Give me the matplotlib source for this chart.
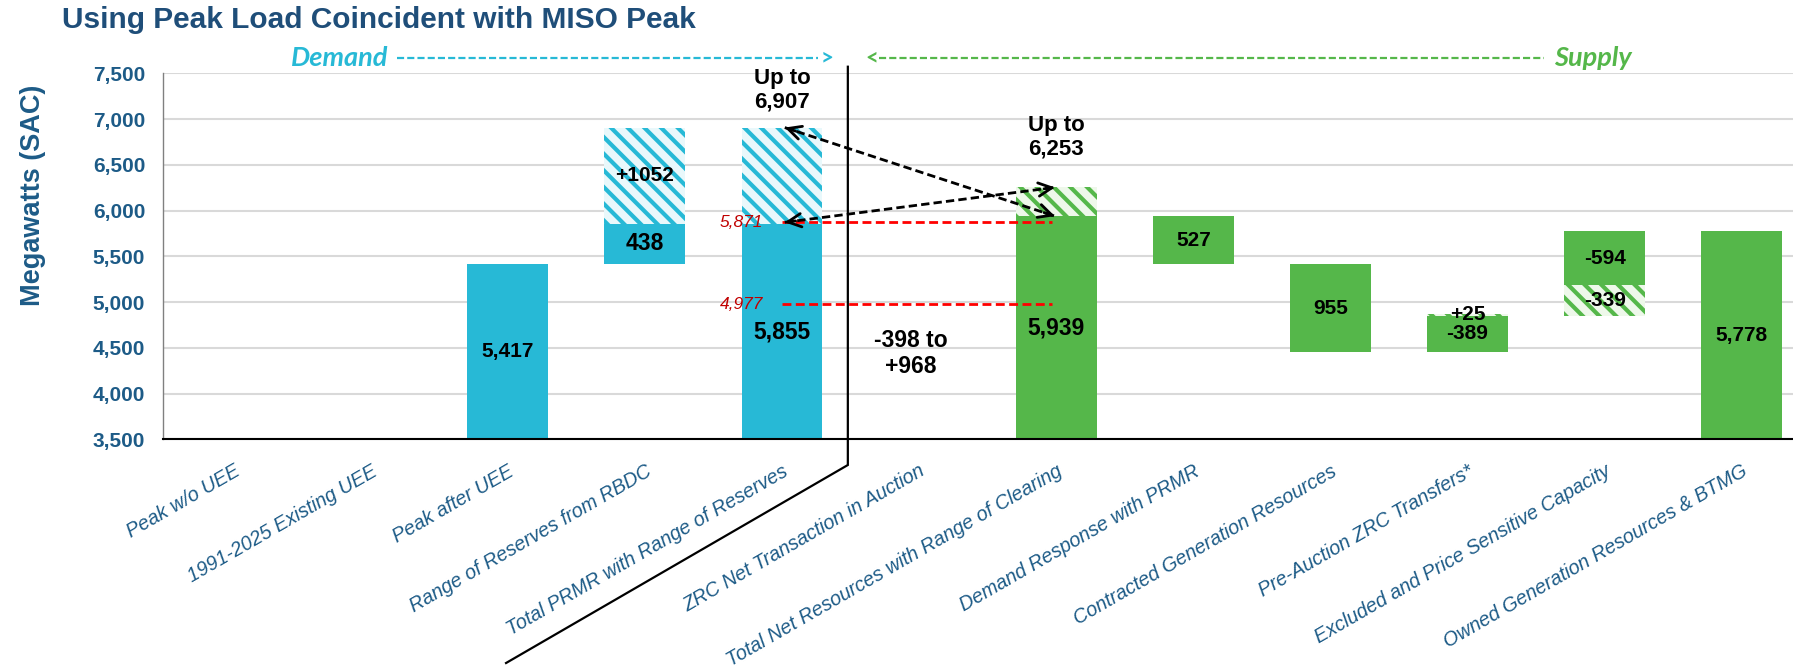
import matplotlib
matplotlib.use("Agg")
import matplotlib.pyplot as plt
import numpy as np

# ---------------- data ----------------
categories = ["Peak w/o UEE", "1991-2025 Existing UEE", "Peak after UEE",
              "Range of Reserves from RBDC", "Total PRMR with Range of Reserves",
              "ZRC Net Transaction in Auction", "Total Net Resources with Range of Clearing",
              "Demand Response with PRMR", "Contracted Generation Resources",
              "Pre-Auction ZRC Transfers*", "Excluded and Price Sensitive Capacity",
              "Owned Generation Resources & BTMG"]
nan = np.nan
solid_bottom = [nan, nan, 3500, 5417, 3500, nan, 3500, 5412, 4457, 4457, 5184, 3500]
solid_top = [nan, nan, 5417, 5855, 5855, nan, 5939, 5939, 5412, 4846, 5778, 5778]
hatch_bottom = [nan, nan, nan, 5855, 5855, nan, 5939, nan, nan, 4846, 4845, nan]
hatch_top = [nan, nan, nan, 6907, 6907, nan, 6253, nan, nan, 4871, 5184, nan]
solid_labels = ["", "", "5,417", "438", "5,855", "", "5,939", "527", "955", "-389", "-594", "5,778"]
hatch_labels = ["", "", "", "+1052", "", "", "", "", "", "+25", "-339", ""]
ref_levels = [5871, 4977]
ref_level_labels = ["5,871", "4,977"]
range_top_demand = 6907
range_top_supply = 6253
prmr_value = 5871
supply_value = 5939
yticks = [3500, 4000, 4500, 5000, 5500, 6000, 6500, 7000, 7500]

# ---------------- style ----------------
CYAN = "#27b9d6"
GREEN = "#55b74a"
CYAN_BG = "#e9f8fb"
GREEN_BG = "#eef8ea"
NAVY = "#1d5b87"
TITLE = "#1f4e79"
NARROW = ["Liberation Sans Narrow", "Liberation Sans", "DejaVu Sans"]
ARIAL = ["Liberation Sans", "DejaVu Sans"]
HEAD = ["Lato", "DejaVu Sans"]
plt.rcParams["hatch.linewidth"] = 3.0

W, H = 1793, 671
fig = plt.figure(figsize=(W / 100, H / 100), dpi=100)
ax = fig.add_axes([163.3 / W, 1 - 439.3 / H, 1 - 163.3 / W, (439.3 - 73.3) / H])

x = np.arange(len(categories))
colors = [CYAN if i <= 4 else GREEN for i in x]
bgs = [CYAN_BG if i <= 4 else GREEN_BG for i in x]
width = 0.59

sb = np.array(solid_bottom, float); st = np.array(solid_top, float)
hb = np.array(hatch_bottom, float); ht = np.array(hatch_top, float)

ax.bar(x, st - sb, bottom=sb, width=width, color=colors, linewidth=0, zorder=2)
ax.bar(x, ht - hb, bottom=hb, width=width, color=bgs, edgecolor=colors,
       hatch="\\\\", linewidth=0, zorder=2)

narrow_set = {"5,417", "+1052", "527", "955", "-389", "+25", "-594", "-339", "5,778"}
for i in x:
    if solid_labels[i]:
        is_narrow = solid_labels[i] in narrow_set
        ax.text(i, (sb[i] + st[i]) / 2, solid_labels[i], ha="center", va="center",
                family=NARROW if is_narrow else ARIAL, fontweight="bold",
                fontsize=15 if is_narrow else 16.5, color="black", zorder=5)
    if hatch_labels[i]:
        ax.text(i, (hb[i] + ht[i]) / 2, hatch_labels[i], ha="center", va="center",
                family=NARROW, fontweight="bold", fontsize=15, color="black", zorder=5)

# range annotations
ax.text(4, 7317, "Up to\n6,907", ha="center", va="center", family=ARIAL,
        fontweight="bold", fontsize=16, linespacing=1.15, clip_on=False)
ax.text(6, 6804, "Up to\n6,253", ha="center", va="center", family=ARIAL,
        fontweight="bold", fontsize=16, linespacing=1.15)
ax.text(4.94, 4440, "-398 to\n+968", ha="center", va="center", family=ARIAL,
        fontweight="bold", fontsize=16.5, linespacing=1.15)

# red dashed reference lines
for lv, lab in zip(ref_levels, ref_level_labels):
    ax.plot([4.0, 5.97], [lv, lv], color="#ff0000", lw=2.0, dashes=(3.2, 1.6),
            zorder=4, dash_capstyle="butt")
    ax.text(3.86, lv, lab, ha="right", va="center", color="#c00000",
            family=ARIAL, fontstyle="italic", fontsize=12.5, zorder=5)

# dashed double arrows
pairs = [((4.02, range_top_demand), (5.99, supply_value)),
         ((4.02, prmr_value), (5.99, range_top_supply))]
for (x0, y0), (x1, y1) in pairs:
    ax.plot([x0, x1], [y0, y1], color="black", lw=2.0, dashes=(3.0, 1.5), zorder=6)
    for (xa, ya), (xb, yb) in [((x0, y0), (x1, y1)), ((x1, y1), (x0, y0))]:
        xs = xb + (xa - xb) * 0.04
        ys = yb + (ya - yb) * 0.04
        ax.annotate("", xy=(xb, yb), xytext=(xs, ys),
                    arrowprops=dict(arrowstyle="->", lw=2.0, color="black",
                                    mutation_scale=24, shrinkA=0, shrinkB=0),
                    zorder=6)

# axes styling
ax.set_xlim(-0.513, 11.374)
ax.set_ylim(3500, 7500)
ax.set_yticks(yticks)
ax.set_yticklabels([f"{v:,}" for v in yticks], family=NARROW, fontweight="bold",
                   fontsize=15, color=NAVY)
ax.tick_params(axis="y", length=0, pad=13)
ax.set_xticks(x)
ax.set_xticklabels(categories, rotation=30, ha="right", va="top",
                   rotation_mode="anchor", family=ARIAL, fontstyle="italic",
                   fontsize=14.2, color=NAVY)
ax.tick_params(axis="x", length=0, pad=16)
ax.grid(axis="y", color="#d9d9d9", lw=1.5, zorder=0)
ax.set_axisbelow(True)
for s in ["top", "right"]:
    ax.spines[s].set_visible(False)
ax.spines["left"].set_color("#808080")
ax.spines["left"].set_linewidth(1.0)
ax.spines["bottom"].set_color("black")
ax.spines["bottom"].set_linewidth(1.5)

# divider line
ax.plot([4.48, 4.48, 1.987], [7572, 3219, 1055], color="black", lw=1.6,
        clip_on=False, zorder=6, solid_joinstyle="miter")

# Demand / Supply headers
yh = 7667
ax.text(0.42, yh, "Demand", color=CYAN, family=HEAD,
        fontstyle="italic", fontweight="bold", fontsize=19.5, ha="left", va="center",
        clip_on=False)
ax.plot([1.19, 4.26], [yh, yh], color=CYAN, lw=1.6, dashes=(3.2, 1.4), clip_on=False)
ax.text(4.28, yh, ">", color=CYAN, family=HEAD,
        fontweight="bold", fontsize=16, ha="left", va="center", clip_on=False)
ax.text(4.70, yh, "<", color=GREEN, family=HEAD,
        fontweight="bold", fontsize=16, ha="right", va="center", clip_on=False)
ax.plot([4.71, 9.56], [yh, yh], color=GREEN, lw=1.6, dashes=(3.2, 1.4), clip_on=False)
ax.text(9.63, yh, "Supply", color=GREEN, family=HEAD,
        fontstyle="italic", fontweight="bold", fontsize=19.5, ha="left", va="center",
        clip_on=False)

# title and y label
fig.text(62 / W, 1 - 28 / H, "Using Peak Load Coincident with MISO Peak",
         family=NARROW, fontweight="bold", fontsize=21.5, color=TITLE,
         ha="left", va="baseline")
fig.text(33 / W, 1 - 195 / H, "Megawatts (SAC)", rotation=90, family=ARIAL,
         fontweight="bold", fontsize=19.5, color=NAVY, ha="center", va="center")

fig.savefig("out.png", dpi=100)
